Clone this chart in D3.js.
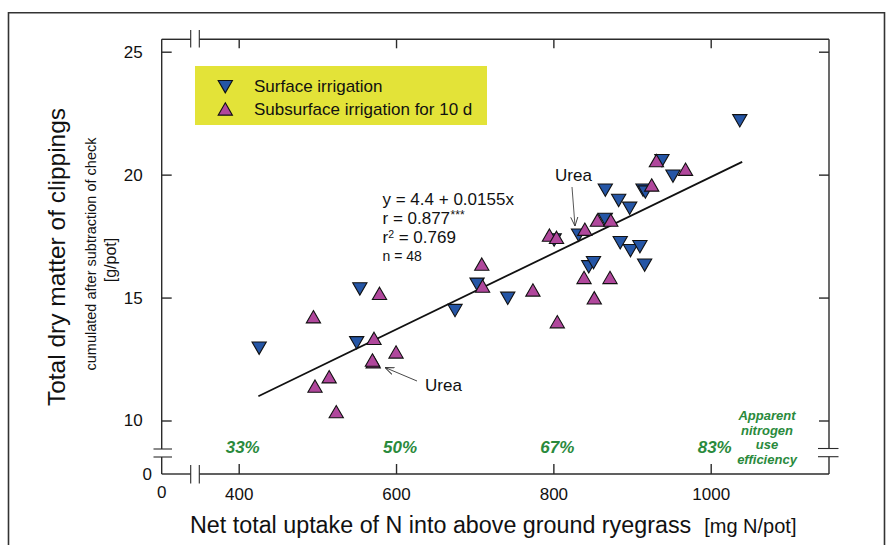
<!DOCTYPE html>
<html>
<head>
<meta charset="utf-8">
<script src="https://cdn.jsdelivr.net/npm/d3@7"></script>
<style>
  html, body { margin: 0; padding: 0; background: #fff; }
  svg text { font-family: "Liberation Sans", Arial, sans-serif; }
</style>
</head>
<body>
<svg id="chart" width="887" height="545"></svg>
<script>
// ---- data ----
const surfaceX = [426, 550, 554, 675, 703, 742, 801, 832, 866, 845, 851, 866, 883, 897, 885, 898, 910, 916, 914, 917, 938, 952, 1037];
const surfaceY = [12.94, 13.16, 15.35, 14.47, 15.54, 14.97, 17.34, 17.54, 18.18, 16.25, 16.42, 19.37, 18.95, 18.63, 17.23, 16.91, 17.07, 16.32, 19.37, 19.29, 20.57, 19.94, 22.19];
const subsurfaceX = [495, 579, 572, 600, 571, 570, 515, 497, 524, 709, 710, 774, 805, 795, 804, 840, 856, 873, 839, 872, 852, 925, 931, 968];
const subsurfaceY = [14.22, 15.17, 13.34, 12.79, 12.39, 12.46, 11.78, 11.40, 10.36, 16.36, 15.47, 15.31, 14.02, 17.54, 17.45, 17.78, 18.15, 18.15, 15.82, 15.82, 14.99, 19.58, 20.57, 20.22];
const seriesNames = ["Surface irrigation", "Subsurface irrigation for 10 d"];
const xTicks = [400, 600, 800, 1000];
const yTicks = [10, 15, 20, 25];
const effValues = [400, 600, 800, 1000];
const effLabels = ["33%", "50%", "67%", "83%"];
const fitIntercept = 4.4, fitSlope = 0.0155, fitRange = [425, 1040];
const statsLines = ["y = 4.4 + 0.0155x", "r = 0.877", "r", "n = 48"];

// ---- layout ----
const svg = d3.select("#chart");
const L = 161.7, R = 829, T = 39.3, B = 474;
const x = d3.scaleLinear().domain([400, 1000]).range([238.7, 710.7]);
const y = d3.scaleLinear().domain([10, 25]).range([420.5, 51.7]);
const ink = "#2b2b2b";
const green = "#2a8a3c";
const blue = "#2556a6", magenta = "#b0479c";

// outer frame
svg.append("path").attr("d", "M8.5,545 V12.7 H884.5 V545")
  .attr("fill", "none").attr("stroke", "#333").attr("stroke-width", 1.6);

// legend box
svg.append("rect").attr("x", 195).attr("y", 66).attr("width", 292).attr("height", 59)
  .attr("fill", "#e3e338");

// axis lines with breaks
const axisLines = [
  [L, T, L, 449], [L, 457, L, B],
  [R, T, R, 448.5], [R, 456.7, R, B],
  [L, B, 190.7, B], [199.3, B, R, B],
  [L, T, 190.7, T], [199.3, T, R, T]
];
axisLines.forEach(d => svg.append("line").attr("x1", d[0]).attr("y1", d[1]).attr("x2", d[2]).attr("y2", d[3])
  .attr("stroke", ink).attr("stroke-width", 1.4));
const breakMarks = [
  [153.5, 449, 172, 449], [153.5, 457, 172, 457],
  [818, 448.5, 838.5, 448.5], [818, 456.7, 838.5, 456.7],
  [190.7, 465, 190.7, 483.5], [199.3, 465, 199.3, 483.5],
  [190.7, 30, 190.7, 47.5], [199.3, 30, 199.3, 47.5]
];
breakMarks.forEach(d => svg.append("line").attr("x1", d[0]).attr("y1", d[1]).attr("x2", d[2]).attr("y2", d[3])
  .attr("stroke", ink).attr("stroke-width", 1.1));

function styleAxis(g) {
  g.select(".domain").remove();
  g.selectAll(".tick line").attr("stroke", ink).attr("stroke-width", 1.4);
  g.selectAll(".tick text").attr("fill", "#111").style("font-size", "17px")
    .style("font-family", "'Liberation Sans', Arial, sans-serif");
}
svg.append("g").attr("transform", `translate(0,${B})`)
  .call(d3.axisBottom(x).tickValues(xTicks).tickSizeInner(-10).tickSizeOuter(0).tickPadding(14).tickFormat(d3.format("d")))
  .call(styleAxis);
svg.append("g").attr("transform", `translate(0,${T})`)
  .call(d3.axisTop(x).tickValues(xTicks).tickSizeInner(-9).tickSizeOuter(0).tickFormat(""))
  .call(styleAxis);
svg.append("g").attr("transform", `translate(${L},0)`)
  .call(d3.axisLeft(y).tickValues(yTicks).tickSizeInner(-10).tickSizeOuter(0).tickPadding(19).tickFormat(d3.format("d")))
  .call(styleAxis);
svg.append("g").attr("transform", `translate(${R},0)`)
  .call(d3.axisRight(y).tickValues(yTicks).tickSizeInner(-10).tickSizeOuter(0).tickFormat(""))
  .call(styleAxis);
svg.append("text").attr("x", L).attr("y", 497.5).attr("text-anchor", "middle")
  .style("font-size", "17px").attr("fill", "#111").text("0");
svg.append("text").attr("x", 152).attr("y", B + 6).attr("text-anchor", "end")
  .style("font-size", "17px").attr("fill", "#111").text("0");

// axis titles
const xt = svg.append("text").attr("x", 190).attr("y", 533).attr("fill", "#111");
xt.append("tspan").style("font-size", "23.3px").text("Net total uptake of N into above ground ryegrass");
xt.append("tspan").attr("dx", 13).style("font-size", "20px").text("[mg N/pot]");

svg.append("text").attr("transform", "translate(64.5,257) rotate(-90)").attr("text-anchor", "middle")
  .style("font-size", "24.5px").attr("fill", "#111").text("Total dry matter of clippings");
svg.append("text").attr("transform", "translate(95.5,254) rotate(-90)").attr("text-anchor", "middle")
  .style("font-size", "14.5px").attr("fill", "#111").text("cumulated after subtraction of check");
svg.append("text").attr("transform", "translate(116,260) rotate(-90)").attr("text-anchor", "middle")
  .style("font-size", "16px").attr("fill", "#111").text("[g/pot]");

// efficiency labels
svg.selectAll(".eff").data(effValues).enter().append("text")
  .attr("x", d => x(d) + 4).attr("y", 452.7).attr("text-anchor", "middle")
  .attr("fill", green).style("font-size", "17px").style("font-weight", "bold").style("font-style", "italic")
  .text((d, i) => effLabels[i]);
["Apparent", "nitrogen", "use", "efficiency"].forEach((s, i) =>
  svg.append("text").attr("x", 767).attr("y", 420 + i * 14.5).attr("text-anchor", "middle")
    .attr("fill", green).style("font-size", "13px").style("font-weight", "bold").style("font-style", "italic").text(s));

// regression line
svg.append("line")
  .attr("x1", x(fitRange[0])).attr("y1", y(fitIntercept + fitSlope * fitRange[0]))
  .attr("x2", x(fitRange[1])).attr("y2", y(fitIntercept + fitSlope * fitRange[1]))
  .attr("stroke", "#111").attr("stroke-width", 1.8);

// markers
const symSize = 88;
const side = Math.sqrt(4 * symSize / Math.sqrt(3));
const hOff = side * Math.sqrt(3) / 2 / 6;
const tri = d3.symbol().type(d3.symbolTriangle).size(symSize);
const surf = surfaceX.map((v, i) => ({x: v, y: surfaceY[i]}));
const sub = subsurfaceX.map((v, i) => ({x: v, y: subsurfaceY[i]}));
svg.append("g").selectAll("path").data(surf).enter().append("path")
  .attr("d", tri).attr("transform", d => `translate(${x(d.x)},${y(d.y) - hOff}) rotate(180)`)
  .attr("fill", blue).attr("stroke", "#111").attr("stroke-width", 1.1);
svg.append("g").selectAll("path").data(sub).enter().append("path")
  .attr("d", tri).attr("transform", d => `translate(${x(d.x)},${y(d.y) + hOff})`)
  .attr("fill", magenta).attr("stroke", "#111").attr("stroke-width", 1.1);

// legend
svg.append("path").attr("d", tri).attr("transform", `translate(225.3,${86.7 - hOff}) rotate(180)`)
  .attr("fill", blue).attr("stroke", "#111").attr("stroke-width", 1.1);
svg.append("path").attr("d", tri).attr("transform", `translate(225.3,${109 + hOff})`)
  .attr("fill", magenta).attr("stroke", "#111").attr("stroke-width", 1.1);
svg.append("text").attr("x", 254).attr("y", 92).style("font-size", "17px").attr("fill", "#111").text(seriesNames[0]);
svg.append("text").attr("x", 254).attr("y", 114.5).style("font-size", "17px").attr("fill", "#111").text(seriesNames[1]);

// statistics
svg.append("text").attr("x", 382.5).attr("y", 205).style("font-size", "17px").attr("fill", "#111").text(statsLines[0]);
const rl = svg.append("text").attr("x", 382.5).attr("y", 224).style("font-size", "17px").attr("fill", "#111").text(statsLines[1]);
const rlw = rl.node().getComputedTextLength();
svg.append("text").attr("x", 382.5 + rlw + 0.5).attr("y", 219).style("font-size", "12px").attr("fill", "#111").text("***");
const r2 = svg.append("text").attr("x", 382.5).attr("y", 243).style("font-size", "17px").attr("fill", "#111").text(statsLines[2]);
const r2w = r2.node().getComputedTextLength();
svg.append("text").attr("x", 382.5 + r2w).attr("y", 237.5).style("font-size", "10.5px").attr("fill", "#111").text("2");
svg.append("text").attr("x", 382.5 + r2w + 10.5).attr("y", 243).style("font-size", "17px").attr("fill", "#111").text("= 0.769");
svg.append("text").attr("x", 382.5).attr("y", 261).style("font-size", "14px").attr("fill", "#111").text(statsLines[3]);

// Urea annotations
const defs = svg.append("defs");
defs.append("marker").attr("id", "arr").attr("viewBox", "0 0 10 10").attr("refX", 10).attr("refY", 5)
  .attr("markerWidth", 9).attr("markerHeight", 9).attr("markerUnits", "userSpaceOnUse").attr("orient", "auto")
  .append("path").attr("d", "M0,1 L10,5 L0,9").attr("fill", "none").attr("stroke", "#333").attr("stroke-width", 1);
svg.append("text").attr("x", 555).attr("y", 181).style("font-size", "17px").attr("fill", "#111").text("Urea");
svg.append("line").attr("x1", 572).attr("y1", 187).attr("x2", 575).attr("y2", 226)
  .attr("stroke", "#444").attr("stroke-width", 0.9).attr("marker-end", "url(#arr)");
svg.append("text").attr("x", 425).attr("y", 391).style("font-size", "17px").attr("fill", "#111").text("Urea");
svg.append("line").attr("x1", 417).attr("y1", 381).attr("x2", 385).attr("y2", 367.5)
  .attr("stroke", "#333").attr("stroke-width", 0.9).attr("marker-end", "url(#arr)");
</script>
</body>
</html>
